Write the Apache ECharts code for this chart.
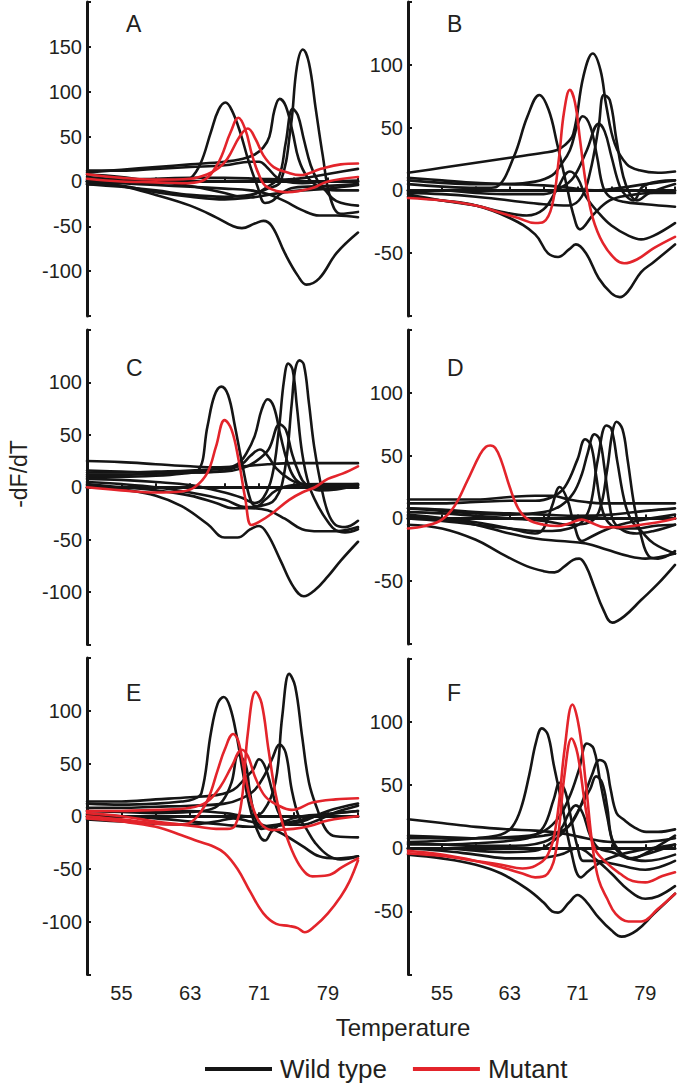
<!DOCTYPE html>
<html>
<head>
<meta charset="utf-8">
<script src="https://cdn.jsdelivr.net/npm/echarts@6/dist/echarts.min.js"></script>
<style>
html,body{margin:0;padding:0;background:#fff;}
#chart{width:682px;height:1085px;}
</style>
</head>
<body>
<div id="chart"></div>
<script>
// ---------- DATA (temperature, -dF/dT) ----------
const panelLetters = ['A', 'B', 'C', 'D', 'E', 'F'];
const xTickLabels = [55, 63, 71, 79];
const yMin = [-150, -100, -150, -100, -150, -100];
const yMax = [200, 150, 150, 150, 150, 150];
const yTickLabels = [
  [-100, -50, 0, 50, 100, 150],
  [-50, 0, 50, 100],
  [-100, -50, 0, 50, 100],
  [-50, 0, 50, 100],
  [-100, -50, 0, 50, 100],
  [-50, 0, 50, 100]
];

const A_wild = [
  [[51,0],[55,-5],[59,-15],[63,-27],[66,-40],[68,-50],[69,-52],[70.5,-47],[71.5,-44],[72.5,-50],[74,-80],[75.5,-105],[76.5,-115],[78,-108],[80,-80],[82.5,-57]],
  [[51,5],[55,2],[59,-2],[62,0],[63,3],[64.2,20],[65.4,55],[66.3,80],[67.1,88],[67.8,80],[68.8,55],[69.8,22],[70.8,-5],[71.7,-24],[72.5,-22],[73.5,-14],[75,-7],[79,-5],[82.5,-3]],
  [[51,-3],[55,-6],[59,-10],[63,-15],[67,-17],[70,-15],[72,-8],[73.5,0],[74.7,62],[75.4,128],[76.1,147],[76.8,132],[77.6,80],[78.4,29],[79.3,-19],[80.5,-36],[82.5,-34]],
  [[51,10],[55,13],[59,16],[63,19],[67,22],[69,25],[70.5,30],[71.5,38],[72.2,50],[72.8,80],[73.4,92],[74.1,84],[74.9,55],[75.6,25],[76.6,5],[78,-6],[80,-10],[82.5,-10]],
  [[51,8],[55,5],[59,0],[63,-5],[67,-13],[69,-17],[70.5,-14],[72,-6],[73.3,5],[74.1,43],[74.9,81],[75.5,74],[76.2,47],[77,18],[77.8,1],[78.7,-10],[80,-22],[82.5,-27]],
  [[51,12],[55,12],[59,14],[63,16],[67,18],[70,22],[71,22],[72,15],[73,5],[74,0],[76,-2],[79,0],[82.5,1]],
  [[51,-3],[55,-5],[59,-12],[63,-17],[67,-20],[70,-18],[72,-15],[74,-12],[76,-10],[79,-8],[82.5,-4]],
  [[51,2],[55,2],[59,3],[63,4],[67,4],[71,3],[74,2],[77,5],[80,10],[82.5,14]],
  [[51,0],[55,-2],[59,-4],[63,-6],[67,-8],[70,-10],[72,-14],[74,-22],[76,-32],[78,-38],[80,-38],[82.5,-40]]
];
const A_mutant = [
  [[51,3],[55,0],[59,-1],[62,-2],[64.2,0],[66.1,18],[67.7,55],[68.6,71],[69.4,58],[70.2,29],[71,7],[71.9,-6],[74.3,-12],[77,-8],[79,0],[82.5,5]],
  [[51,8],[55,4],[59,2],[63,3],[65,8],[66.3,15],[67.3,25],[68.8,51],[69.7,59],[70.6,47],[71.5,29],[72.7,16],[74.3,10],[75.8,7],[78.2,14],[80.5,19],[82.5,20]]
];

const B_wild = [
  [[51,5],[55,3],[59,2],[60.5,2],[61.5,3],[63.5,27],[65.1,59],[66.5,76],[67.6,64],[68.6,37],[69.75,3],[70.5,-19],[71.3,-31],[72.9,-19],[74.8,-8],[77,-4],[80,-2],[82.5,-2]],
  [[51,14],[55,18],[59,22],[63,26],[67,30],[68.5,32],[69.5,36],[70.5,45],[71.7,91],[72.8,109],[73.7,96],[74.4,67],[75.4,37],[76.8,21],[78.3,16],[80.5,14],[82.5,15]],
  [[51,-2],[55,-3],[59,-5],[63,-8],[67,-11],[70,-12],[71.5,-5],[72.5,15],[73.5,51],[74.1,76],[74.8,72],[75.6,40],[76.4,11],[77.2,-3],[78,-8],[79.5,-2],[82.5,5]],
  [[51,8],[55,6],[59,5],[63,5],[66,7],[68,12],[69,20],[70.1,32],[71,52],[71.6,59],[72.5,51],[73.3,27],[74,3],[74.8,-5],[76.4,-9],[79,-11],[82.5,-13]],
  [[51,0],[55,0],[59,-2],[63,-3],[67,-3],[69,2],[70.5,10],[72.1,32],[73.5,53],[74.2,47],[75,27],[76,3],[76.8,-5],[77.6,-8],[78.7,3],[80.5,7],[82.5,8]],
  [[51,-3],[55,-8],[59,-12],[62,-17],[65,-20],[67,-15],[68.5,0],[70.1,15],[71,10],[72,-5],[73.5,-18],[75,-28],[77,-36],[78.5,-39],[80,-36],[82.5,-26]],
  [[51,-5],[55,-8],[59,-12],[63,-22],[66,-35],[67.5,-50],[68.7,-53],[70,-47],[70.8,-43],[72,-50],[73.5,-70],[75,-82],[76,-85],[77,-80],[78.5,-65],[80,-57],[82.5,-43]],
  [[51,10],[55,8],[59,6],[63,5],[67,4],[70,2],[73,0],[76,2],[79,5],[82.5,8]]
];
const B_mutant = [
  [[51,-6],[55,-8],[59,-12],[62,-18],[64,-22],[66,-26],[67,-25],[68,-12],[68.8,25],[69.4,62],[70.1,80],[70.7,70],[71.3,40],[72,5],[72.8,-22],[74,-42],[75.5,-55],[76.5,-58],[78,-55],[80,-46],[82.5,-37]]
];

const C_wild = [
  [[51,10],[55,10],[59,11],[62,13],[63.9,16],[65,58],[65.8,87],[66.6,96],[67.4,88],[68.2,58],[69,24],[70,-12],[70.7,-18],[71.7,-12],[73,-3],[75,2],[78,3],[82.5,3]],
  [[51,14],[55,14],[59,15],[63,16],[67,18],[68.5,22],[69.5,32],[70.5,49],[71.3,74],[72,84],[72.7,77],[73.5,49],[74.3,24],[75.2,8],[76.5,2],[79,1],[82.5,2]],
  [[51,8],[55,7],[59,5],[63,2],[67,-5],[69,-10],[70.5,-15],[71.5,-10],[72.5,10],[73.3,55],[73.9,102],[74.4,118],[74.9,112],[75.4,77],[76,33],[76.8,2],[77.8,-17],[79,-33],[79.9,-41],[81,-43],[82.5,-40]],
  [[51,5],[55,3],[59,0],[63,-5],[67,-12],[69.5,-19],[71,-18],[72.9,-11],[74,17],[74.8,80],[75.2,112],[75.7,121],[76.2,117],[76.8,80],[77.4,39],[78.2,2],[79,-24],[79.9,-36],[81,-38],[82.5,-32]],
  [[51,12],[55,12],[59,13],[63,14],[67,15],[69,18],[70.5,24],[72.1,36],[73.4,60],[74.1,55],[74.8,33],[75.6,14],[76.4,3],[78,-3],[80,-2],[82.5,2]],
  [[51,16],[55,15],[59,14],[63,14],[67,16],[69,22],[70,30],[71.1,36],[72,30],[73,18],[74.5,8],[76,3],[78,2],[82.5,3]],
  [[51,25],[55,24],[59,22],[63,20],[66,19],[69,20],[72,22],[75,23],[78,23],[82.5,23]],
  [[51,2],[55,-2],[59,-8],[62,-18],[65,-35],[67,-48],[68.5,-48],[70,-40],[71,-37],[72,-45],[73.5,-70],[75,-95],[76.2,-104],[77.5,-98],[79,-85],[80.5,-70],[82.5,-52]],
  [[51,3],[55,0],[59,-3],[63,-8],[66,-15],[68,-20],[70,-20],[72,-22],[74,-30],[76,-40],[78,-42],[80,-42],[82.5,-38]]
];
const C_mutant = [
  [[51,0],[55,-3],[59,-5],[62,-4],[63.5,0],[65,14],[66,39],[67,64],[67.8,55],[68.6,27],[69.4,-11],[70.1,-36],[71,-33],[72.5,-25],[74.5,-12],[76,-5],[77.5,0],[79,8],[80.7,13],[82.5,20]]
];

const D_wild = [
  [[51,-5],[55,-8],[59,-17],[62,-28],[65,-38],[67,-42],[68.3,-43],[69.5,-38],[70.5,-33],[71.2,-32],[72,-38],[73,-55],[74,-72],[75.1,-83],[76.5,-78],[78.5,-65],[80.5,-52],[82.5,-37]],
  [[51,2],[55,0],[59,-3],[63,-8],[66,-12],[67,-8],[68,10],[68.9,25],[69.8,15],[70.6,-5],[71.5,-18],[72.5,-15],[74,-10],[76,-5],[78,-2],[82.5,3]],
  [[51,12],[55,12],[59,13],[63,14],[66,14],[68,17],[69.5,25],[71,47],[71.9,63],[72.6,58],[73.2,34],[73.8,10],[74.6,-3],[76,-8],[78,-8],[80,-6],[82.5,-5]],
  [[51,8],[55,6],[59,4],[63,3],[67,5],[69,10],[70.5,20],[71.5,35],[72.2,52],[73,67],[73.6,63],[74.2,39],[74.8,10],[75.3,-3],[76.5,-10],[78,-12],[80,-10],[82.5,-5]],
  [[51,0],[55,-2],[59,-5],[63,-8],[66,-10],[68,-10],[70,-8],[71.5,-3],[72.5,10],[73.4,47],[74.4,74],[75,71],[75.7,45],[76.5,15],[77.3,-1],[78.5,-10],[80,-20],[82.5,-28]],
  [[51,5],[55,4],[59,2],[63,0],[67,-2],[70,-5],[72,-4],[73.5,5],[74.5,39],[75.1,68],[75.6,77],[76.3,71],[76.9,47],[77.7,10],[78.5,-14],[79.4,-30],[80.5,-32],[82.5,-26]],
  [[51,15],[55,15],[59,15],[63,17],[66,18],[68,18],[70,15],[72,13],[74,12],[76,12],[78,12],[82.5,12]],
  [[51,3],[55,0],[59,-5],[63,-12],[66,-16],[69,-18],[72,-20],[74.5,-25],[77,-30],[79,-32],[82.5,-28]],
  [[51,8],[55,7],[59,5],[63,4],[67,3],[71,2],[75,3],[79,6],[82.5,8]]
];
const D_mutant = [
  [[51,-8],[53,-6],[55,-1],[56.5,10],[58,30],[59.5,51],[60.2,57],[60.7,58],[61.3,56],[62,46],[63,25],[64,8],[65.2,-1],[67,-5],[68.7,-6],[70,-4],[71.5,-1],[72.5,-3],[74.2,-7],[76,-7],[78.5,-5],[80.5,-3],[82.5,0]]
];

const E_wild = [
  [[51,12],[55,11],[59,12],[62,14],[63.3,16],[64.3,22],[65.4,79],[66.2,107],[66.9,113],[67.6,104],[68.4,76],[69.2,38],[70.1,3],[71.1,-19],[71.7,-23],[72.5,-14],[74,-5],[76,0],[79,2],[82.5,5]],
  [[51,5],[55,5],[59,5],[63,5],[67,3],[70,0],[71.5,5],[72.9,32],[73.7,95],[74.5,135],[75.2,123],[76,76],[76.8,32],[77.8,6],[78.8,-13],[79.9,-19],[82.5,-20]],
  [[51,8],[55,8],[59,9],[63,10],[67,12],[69,17],[70.5,25],[71.7,40],[72.5,54],[73.4,68],[74.1,60],[74.8,25],[75.6,0],[76.5,-12],[77.5,-25],[79,-37],[80.5,-41],[82.5,-38]],
  [[51,14],[55,14],[59,16],[63,18],[66,20],[68,25],[69.5,37],[70.3,44],[71,54],[71.7,47],[72.5,25],[73.3,3],[74.5,-8],[76,-8],[78,-3],[80,4],[82.5,10]],
  [[51,5],[55,4],[59,3],[63,4],[65.5,7],[66.8,15],[67.8,32],[68.6,58],[69.4,50],[69.9,25],[70.5,0],[71.3,-12],[72.5,-10],[74,-8],[76,-5],[79,5],[82.5,12]],
  [[51,-3],[55,-5],[59,-7],[63,-8],[66,-5],[68,-2],[70,-5],[72,-10],[74,-18],[76,-28],[78,-38],[80,-40],[82.5,-38]],
  [[51,2],[55,0],[59,-2],[63,-5],[67,-8],[70,-10],[73,-8],[76,-3],[79,2],[82.5,5]]
];
const E_mutant = [
  [[51,-2],[55,-5],[59,-10],[62,-18],[64,-24],[65.5,-28],[67,-35],[68.5,-50],[70,-72],[71.5,-92],[73,-102],[74.5,-104],[75.5,-106],[76.3,-110],[77.5,-104],[79,-92],[80.5,-76],[81.5,-62],[82.5,-42]],
  [[51,3],[55,0],[59,-5],[62,-8],[64,-10],[66,-12],[67.3,-12],[68.2,-9],[69,16],[69.7,79],[70.6,118],[71.3,107],[72.1,63],[72.9,22],[73.7,-6],[74.8,-32],[76,-50],[77.2,-57],[79,-56],[80.7,-48],[82.5,-40]],
  [[51,0],[55,-3],[59,-7],[62,-8],[63.5,-3],[65,15],[66.2,44],[67,63],[68,78],[68.6,71],[69.4,38],[70.1,13],[71.1,-6],[72.5,-13],[75,-12],[77,-9],[79,-4],[82.5,0]],
  [[51,5],[55,5],[59,6],[63,8],[65,14],[66.5,28],[67.8,47],[69,63],[69.7,57],[70.5,38],[71.7,19],[73.3,10],[74.8,6],[77.2,13],[79.9,16],[82.5,17]]
];

const F_wild = [
  [[51,5],[55,6],[59,8],[62,11],[63.3,17],[64.3,31],[65.3,58],[66.1,84],[66.8,95],[67.5,90],[68.2,66],[69.2,34],[70.2,-1],[71.4,-23],[72.3,-18],[74,-10],[76,-5],[78,-2],[82.5,3]],
  [[51,3],[55,3],[59,4],[63,6],[65.5,9],[67,17],[68.2,39],[68.9,52],[69.6,44],[70.2,25],[71,1],[71.7,-10],[73,-10],[75,-12],[77,-15],[79,-17],[82.5,-10]],
  [[51,8],[55,8],[59,8],[63,9],[66.5,12],[68.5,22],[70,40],[71.2,63],[72.1,83],[72.9,79],[73.7,52],[74.5,25],[75.2,4],[76,-4],[77.5,-8],[79,-4],[82.5,10]],
  [[51,10],[55,9],[59,8],[63,8],[67,10],[69.5,15],[71,28],[72.7,58],[73.6,70],[74.3,67],[74.9,47],[75.6,28],[76.4,23],[77.6,17],[79.1,13],[80.5,13],[82.5,15]],
  [[51,0],[55,0],[59,-2],[63,-3],[66,-2],[68,5],[70,18],[71.5,35],[72.5,47],[73.2,57],[73.9,52],[74.5,33],[75,9],[75.8,-1],[77,-8],[79,-5],[82.5,3]],
  [[51,4],[55,3],[59,2],[63,2],[67,5],[69,15],[70,28],[70.8,34],[71.6,28],[72.5,10],[73.5,0],[75,-3],[77,-8],[79,-10],[82.5,-5]],
  [[51,23],[55,20],[59,17],[63,15],[66,14],[69,12],[72,8],[75,5],[78,5],[80.5,6],[82.5,8]],
  [[51,0],[55,-2],[59,-5],[63,-8],[66,-8],[69,-5],[71,0],[73,-8],[75,-20],[77,-33],[79,-40],[80.5,-38],[82.5,-30]],
  [[51,-5],[55,-8],[59,-13],[62,-20],[65,-32],[67,-43],[68,-50],[68.7,-51],[70,-43],[71,-37],[72,-42],[73.5,-55],[75,-65],[76.2,-70],[78,-65],[80,-52],[82.5,-36]]
];
const F_mutant = [
  [[51,-4],[55,-6],[59,-10],[62,-13],[64.5,-16],[66,-14],[67.5,-5],[68.5,20],[69.5,80],[70.4,114],[71.2,95],[72,50],[72.8,0],[73.5,-25],[74.5,-40],[75.5,-52],[77,-58],[78.5,-58],[80.5,-48],[82.5,-36]],
  [[51,-2],[55,-5],[59,-10],[62,-15],[64.5,-20],[66,-23],[67.5,-20],[68.5,0],[69.5,60],[70.3,87],[71,75],[72,30],[73,0],[74.5,-12],[76,-20],[77.5,-26],[79,-27],[81,-22],[82.5,-19]]
];

const wildSets = [A_wild, B_wild, C_wild, D_wild, E_wild, F_wild];
const mutantSets = [A_mutant, B_mutant, C_mutant, D_mutant, E_mutant, F_mutant];

// ---------- LAYOUT ----------
const BLACK = '#151515';
const RED = '#e3242b';
const TEXT = '#231f20';
const FONT = 'Liberation Sans, Arial, Helvetica, sans-serif';

const grids = [
  {left: 87, top: 2, width: 271, height: 314},
  {left: 408, top: 2, width: 267, height: 314},
  {left: 87, top: 330, width: 271, height: 314.5},
  {left: 408, top: 330, width: 267, height: 314},
  {left: 87, top: 658, width: 271, height: 316.5},
  {left: 408, top: 659, width: 267, height: 315.5}
];

const xAxes = [], yAxes = [], series = [], graphics = [];
grids.forEach((g, i) => {
  const bottomRow = i >= 4;
  xAxes.push({
    gridIndex: i, type: 'value', min: 51, max: 82.5, interval: 4,
    axisLine: {show: true, lineStyle: {color: BLACK, width: 3}},
    axisTick: {show: true, inside: true, length: 4, lineStyle: {color: BLACK, width: 2}},
    splitLine: {show: false},
    axisLabel: {
      show: bottomRow, margin: 8, color: TEXT, fontSize: 20, fontFamily: FONT,
      formatter: v => xTickLabels.indexOf(Math.round(v * 10) / 10) >= 0 ? String(v) : ''
    }
  });
  const labs = yTickLabels[i];
  yAxes.push({
    gridIndex: i, type: 'value', min: yMin[i], max: yMax[i], interval: 50,
    axisLine: {show: true, lineStyle: {color: BLACK, width: 3}},
    axisTick: {show: true, inside: true, length: 4, lineStyle: {color: BLACK, width: 2}},
    splitLine: {show: false},
    axisLabel: {
      margin: 5, color: TEXT, fontSize: 20, fontFamily: FONT,
      formatter: v => labs.indexOf(v) >= 0 ? String(v) : ''
    }
  });
  wildSets[i].forEach(curve => {
    series.push({
      name: 'Wild type', type: 'line', xAxisIndex: i, yAxisIndex: i,
      data: curve, showSymbol: false, smooth: 0.4,
      lineStyle: {color: BLACK, width: 2.6, join: 'round', cap: 'round'}, itemStyle: {color: BLACK},
      silent: true, animation: false, z: 2
    });
  });
  mutantSets[i].forEach(curve => {
    series.push({
      name: 'Mutant', type: 'line', xAxisIndex: i, yAxisIndex: i,
      data: curve, showSymbol: false, smooth: 0.4,
      lineStyle: {color: RED, width: 2.6, join: 'round', cap: 'round'}, itemStyle: {color: RED},
      silent: true, animation: false, z: 3
    });
  });
  graphics.push({
    type: 'text', left: g.left + 39, top: (i < 2 ? 12 : (i < 4 ? 356 : 681)),
    style: {text: panelLetters[i], fill: TEXT, font: '23px ' + FONT}
  });
});

graphics.push({
  type: 'text', x: 7, y: 474, rotation: Math.PI / 2,
  style: {text: '-dF/dT', fill: TEXT, font: '23px ' + FONT, align: 'center', verticalAlign: 'top'}
});
graphics.push({
  type: 'text', x: 403, y: 1027,
  style: {text: 'Temperature', fill: TEXT, font: '24px ' + FONT, align: 'center', verticalAlign: 'middle'}
});

const chart = echarts.init(document.getElementById('chart'), null, {renderer: 'svg'});
chart.setOption({
  animation: false,
  backgroundColor: '#ffffff',
  grid: grids,
  xAxis: xAxes,
  yAxis: yAxes,
  series: series,
  legend: {
    data: ['Wild type', 'Mutant'],
    left: 200, top: 1051, padding: 5,
    icon: 'rect', itemWidth: 67, itemHeight: 4, itemGap: 26,
    selectedMode: false,
    textStyle: {color: TEXT, fontSize: 26, fontFamily: FONT, padding: [0, 0, 0, 3]}
  },
  graphic: graphics
});
</script>
</body>
</html>
